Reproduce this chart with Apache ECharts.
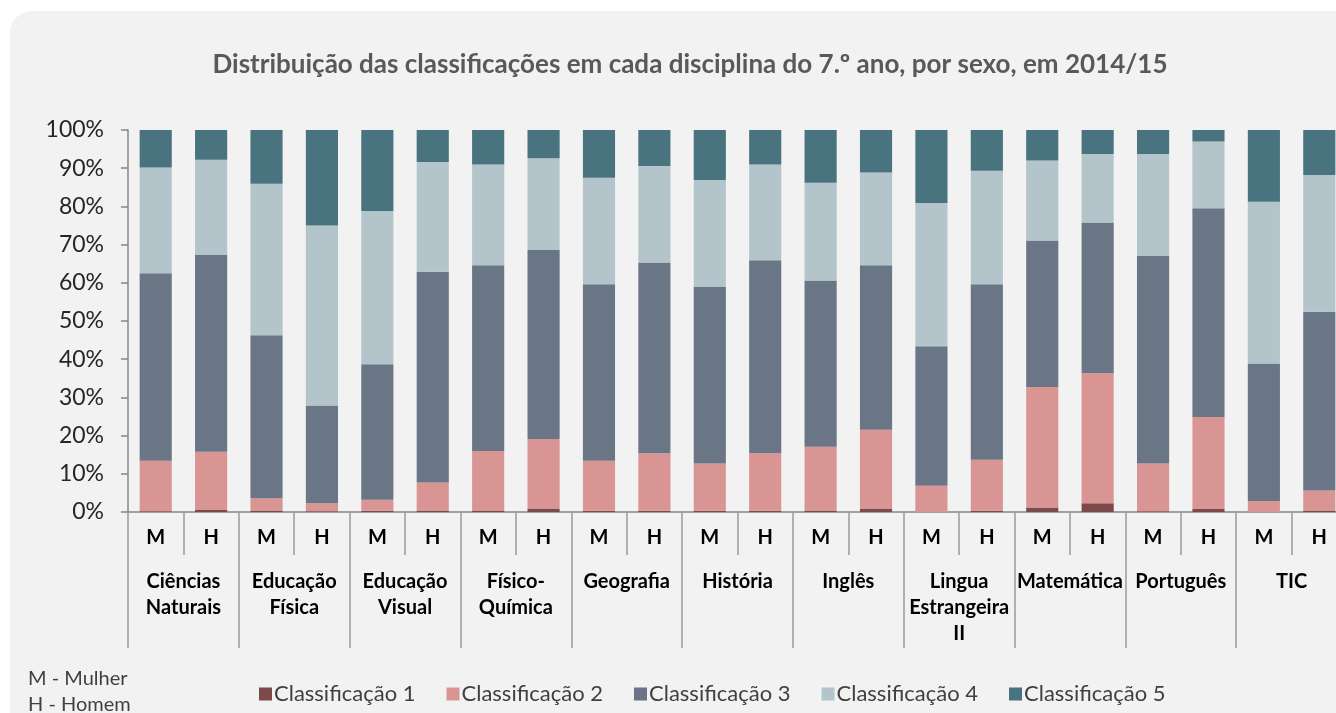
<!DOCTYPE html>
<html>
<head>
<meta charset="utf-8">
<script src="https://cdn.jsdelivr.net/npm/echarts@6/dist/echarts.min.js"></script>
<style>
  html, body { margin: 0; padding: 0; background: #ffffff; }
  #chart { width: 1336px; height: 713px; }
</style>
</head>
<body>
<div id="chart"></div>
<script>
// subjects (group labels) and the M/H bars under each
const subjects = ['Ciências\nNaturais', 'Educação\nFísica', 'Educação\nVisual', 'Físico-\nQuímica', 'Geografia',
  'História', 'Inglês', 'Lingua\nEstrangeira\nII', 'Matemática', 'Português', 'TIC'];
const sexLabels = [];
subjects.forEach(() => { sexLabels.push('M', 'H'); });

const seriesNames = ['Classificação 1', 'Classificação 2', 'Classificação 3', 'Classificação 4', 'Classificação 5'];

// percentages, order: CN M, CN H, EF M, EF H, EV M, EV H, FQ M, FQ H, Geo M, Geo H, Hist M, Hist H,
// Ing M, Ing H, LE M, LE H, Mat M, Mat H, Port M, Port H, TIC M, TIC H
const class1 = [0.2, 0.5, 0.4, 0.2, 0.3, 0.4, 0.4, 0.9, 0.3, 0.3, 0.3, 0.3, 0.4, 0.9, 0.0, 0.3, 1.2, 2.3, 0.2, 0.8, 0.0, 0.4];
const class2 = [13.2, 15.3, 3.2, 2.1, 2.9, 7.3, 15.6, 18.2, 13.1, 15.1, 12.4, 15.1, 16.7, 20.6, 6.9, 13.4, 31.5, 34.0, 12.5, 24.1, 2.9, 5.2];
const class3 = [49.1, 51.5, 42.7, 25.6, 35.5, 55.2, 48.6, 49.5, 46.2, 49.9, 46.2, 50.5, 43.5, 43.1, 36.5, 45.9, 38.4, 39.5, 54.3, 54.6, 36.0, 46.8];
const class4 = [27.7, 24.9, 39.6, 47.1, 40.1, 28.7, 26.4, 24.0, 27.9, 25.3, 28.0, 25.1, 25.6, 24.3, 37.5, 29.7, 20.9, 17.9, 26.7, 17.5, 42.3, 35.8];
const class5 = [9.8, 7.8, 14.1, 25.0, 21.2, 8.4, 9.0, 7.4, 12.5, 9.4, 13.1, 9.0, 13.8, 11.1, 19.1, 10.7, 8.0, 6.3, 6.3, 3.0, 18.8, 11.8];

const colors = ['#7d4a4b', '#d99594', '#6a7586', '#b3c4ca', '#48737f'];
const FONT = 'Lato';

const chart = echarts.init(document.getElementById('chart'));

const option = {
  color: colors,
  textStyle: { fontFamily: FONT },
  title: {
    text: 'Distribuição das classificações em cada disciplina do 7.º ano, por sexo, em 2014/15',
    left: 685,
    textAlign: 'center',
    top: 47,
    textStyle: { fontFamily: FONT, fontSize: 26, fontWeight: 'bold', color: '#595959' }
  },
  graphic: [
    {
      type: 'rect', z: -10, silent: true,
      shape: { x: 10, y: 11, width: 1400, height: 800, r: 22 },
      style: { fill: '#f2f2f2' }
    },
    {
      type: 'text', left: 28, top: 669,
      style: { text: 'M - Mulher', fontFamily: FONT, fontSize: 20, fill: '#404040' }
    },
    {
      type: 'text', left: 28, top: 695,
      style: { text: 'H - Homem', fontFamily: FONT, fontSize: 20, fill: '#404040' }
    }
  ],
  legend: {
    data: seriesNames,
    left: 254,
    top: 678,
    itemWidth: 13,
    itemHeight: 13,
    itemGap: 31,
    icon: 'rect',
    textStyle: { fontFamily: FONT, fontSize: 22, color: '#404040', padding: [0, 0, 0, -3] }
  },
  // the plot runs past the right edge of the picture, as in the source
  grid: { left: 128, top: 130, bottom: 201, width: 1219, outerBoundsMode: 'none', containLabel: false },
  xAxis: [
    {
      type: 'category',
      data: sexLabels,
      position: 'bottom',
      axisLine: { show: true, lineStyle: { color: '#868686', width: 1.5 } },
      axisTick: { show: true, length: 43, interval: 0, lineStyle: { color: '#9a9a9a', width: 1.5 } },
      axisLabel: { interval: 0, margin: 16, fontFamily: FONT, fontSize: 20, fontWeight: 'bold', color: '#000' }
    },
    {
      type: 'category',
      data: subjects,
      position: 'bottom',
      axisLine: { show: false },
      axisTick: { show: true, length: 136, interval: 0, lineStyle: { color: '#9a9a9a', width: 1.5 } },
      axisLabel: { interval: 0, margin: 57, fontFamily: FONT, fontSize: 20, fontWeight: 'bold', color: '#000', lineHeight: 26 }
    }
  ],
  yAxis: {
    type: 'value',
    min: 0,
    max: 100,
    interval: 10,
    splitLine: { show: false },
    axisLine: { show: true, lineStyle: { color: '#868686', width: 1.5 } },
    axisTick: { show: true, length: 7, lineStyle: { color: '#868686', width: 1.5 } },
    axisLabel: { formatter: '{value}%', margin: 24, fontFamily: FONT, fontSize: 23, color: '#262626' }
  },
  series: [class1, class2, class3, class4, class5].map((vals, i) => ({
    name: seriesNames[i],
    type: 'bar',
    stack: 'total',
    xAxisIndex: 0,
    barWidth: '58%',
    data: vals
  }))
};

chart.setOption(option);
</script>
</body>
</html>
